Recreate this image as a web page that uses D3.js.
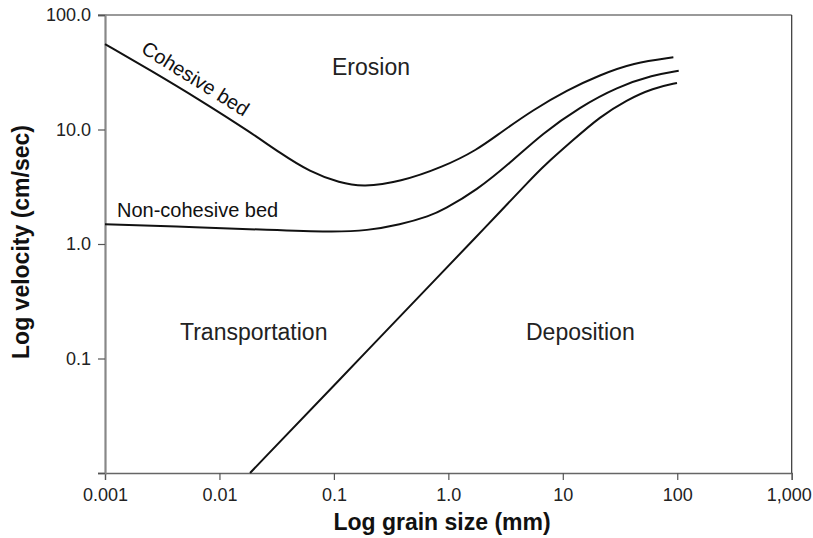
<!DOCTYPE html>
<html>
<head>
<meta charset="utf-8">
<script src="https://cdn.jsdelivr.net/npm/d3@7"></script>
<style>
  body { margin: 0; background: #fff; }
  svg text { font-family: "Liberation Sans", Arial, Helvetica, sans-serif; }
</style>
</head>
<body>
<div id="chart"></div>
<script>
// grain size (mm) / velocity (cm/sec)
var cohesiveSize = [0.001, 0.00247, 0.00676, 0.0185, 0.0338, 0.0618, 0.113, 0.18, 0.378, 0.898, 1.78, 2.83, 5.49, 10.9, 21.1, 41.0, 92.5];
var cohesiveVel  = [55.8, 33.1, 18.1, 9.51, 6.23, 4.25, 3.41, 3.15, 3.48, 4.70, 6.62, 9.32, 14.8, 22.1, 29.9, 38.1, 42.7];

var nonCohesiveSize = [0.001, 0.00676, 0.026, 0.098, 0.195, 0.378, 0.692, 0.898, 1.78, 3.46, 6.71, 14.1, 29.8, 61.4, 103];
var nonCohesiveVel  = [1.49, 1.40, 1.33, 1.27, 1.31, 1.47, 1.76, 1.98, 2.96, 5.10, 9.32, 15.7, 23.5, 29.9, 32.6];

var depositionSize = [0.0185, 0.1, 1.0, 1.89, 5.49, 6.71, 12.3, 21.1, 36.1, 61.4, 99.5];
var depositionVel  = [0.01, 0.058, 0.643, 1.25, 3.85, 4.73, 8.09, 12.9, 18.1, 23.0, 25.5];

var xTicks = [0.001, 0.01, 0.1, 1, 10, 100, 1000];
var xTickLabels = ['0.001', '0.01', '0.1', '1.0', '10', '100', '1,000'];
var yTicks = [0.01, 0.1, 1, 10, 100];
var yTickLabels = ['', '0.1', '1.0', '10.0', '100.0'];

var width = 813, height = 538;

var svg = d3.select('#chart')
  .append('svg')
  .attr('width', width)
  .attr('height', height);

var x = d3.scaleLog().domain([0.001, 1000]).range([105, 791.7]);
var y = d3.scaleLog().domain([0.01, 100]).range([473, 15]);

// frame: top and right
svg.append('line')
  .attr('x1', 98).attr('x2', x(1000))
  .attr('y1', y(100)).attr('y2', y(100))
  .attr('stroke', '#777').attr('stroke-width', 1.3);
svg.append('line')
  .attr('x1', x(1000)).attr('x2', x(1000))
  .attr('y1', y(100)).attr('y2', y(0.01))
  .attr('stroke', '#333').attr('stroke-width', 1.2);

var xAxis = svg.append('g')
  .attr('transform', 'translate(0,' + y(0.01) + ')')
  .call(d3.axisBottom(x).tickValues(xTicks)
    .tickFormat(function (d, i) { return xTickLabels[i]; })
    .tickSize(7).tickPadding(8));

var yAxis = svg.append('g')
  .attr('transform', 'translate(' + x(0.001) + ',0)')
  .call(d3.axisLeft(y).tickValues(yTicks)
    .tickFormat(function (d, i) { return yTickLabels[i]; })
    .tickSize(7).tickPadding(7));

[xAxis, yAxis].forEach(function (g) {
  g.select('.domain').attr('stroke', '#666').attr('stroke-width', 1.3);
  g.selectAll('.tick line').attr('stroke', '#555').attr('stroke-width', 1.2);
  g.selectAll('.tick text')
    .attr('fill', '#222')
    .style('font-size', '18px')
    .style('font-family', '"Liberation Sans", Arial, sans-serif');
});
yAxis.select('.domain').attr('stroke', '#888').attr('stroke-width', 2.2);
// last label sits at the page edge, nudge it in a little
xAxis.selectAll('.tick text').filter(function (d) { return d === 1000; })
  .attr('dx', -3);

var line = d3.line()
  .x(function (d) { return x(d[0]); })
  .y(function (d) { return y(d[1]); })
  .curve(d3.curveBasis);

function zipSeries(sizes, vels) {
  return sizes.map(function (s, i) { return [s, vels[i]]; });
}

[
  zipSeries(cohesiveSize, cohesiveVel),
  zipSeries(nonCohesiveSize, nonCohesiveVel),
  zipSeries(depositionSize, depositionVel)
].forEach(function (series) {
  svg.append('path')
    .datum(series)
    .attr('d', line)
    .attr('fill', 'none')
    .attr('stroke', '#111')
    .attr('stroke-width', 2);
});

// region labels
svg.append('text').attr('x', 332).attr('y', 75)
  .style('font-size', '23px').attr('fill', '#222').text('Erosion');
svg.append('text').attr('x', 180).attr('y', 340)
  .style('font-size', '23px').attr('fill', '#222').text('Transportation');
svg.append('text').attr('x', 526).attr('y', 340)
  .style('font-size', '23px').attr('fill', '#222').text('Deposition');

// curve labels
svg.append('text').attr('x', 117).attr('y', 217)
  .style('font-size', '20px').attr('fill', '#111').text('Non-cohesive bed');
svg.append('text')
  .attr('transform', 'translate(140,52) rotate(32)')
  .style('font-size', '20px').attr('fill', '#111').text('Cohesive bed');

// axis titles
svg.append('text')
  .attr('x', 442).attr('y', 530)
  .attr('text-anchor', 'middle')
  .style('font-size', '23px').style('font-weight', 'bold').attr('fill', '#111')
  .text('Log grain size (mm)');
svg.append('text')
  .attr('transform', 'translate(29,242) rotate(-90)')
  .attr('text-anchor', 'middle')
  .style('font-size', '23px').style('font-weight', 'bold').attr('fill', '#111')
  .text('Log velocity (cm/sec)');
</script>
</body>
</html>
